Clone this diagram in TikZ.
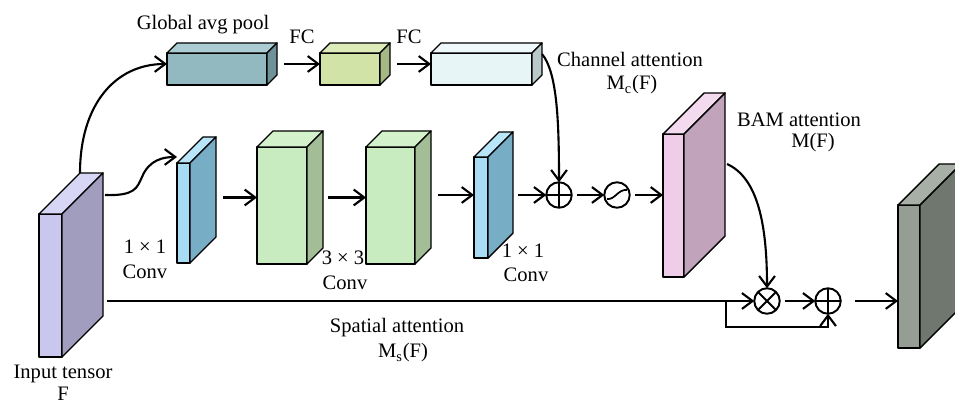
\documentclass[tikz,border=0pt]{standalone}
\usepackage{fontspec}
\setmainfont{Liberation Serif}
\usetikzlibrary{arrows.meta,positioning}

\definecolor{inF}{HTML}{C9C7EE}   \definecolor{inS}{HTML}{A09DBF}   \definecolor{inT}{HTML}{D8D6F5}
\definecolor{gapF}{HTML}{93B9C0}  \definecolor{gapS}{HTML}{6F9198}  \definecolor{gapT}{HTML}{AACCD2}
\definecolor{fcaF}{HTML}{D2E3A8}  \definecolor{fcaS}{HTML}{A6B883}  \definecolor{fcaT}{HTML}{DDEBB9}
\definecolor{fcbF}{HTML}{E8F5F7}  \definecolor{fcbS}{HTML}{B9C9CA}  \definecolor{fcbT}{HTML}{EFF8FA}
\definecolor{cvF}{HTML}{A8DCF4}   \definecolor{cvS}{HTML}{78ADC6}   \definecolor{cvT}{HTML}{B8E5F8}
\definecolor{c3F}{HTML}{C8ECC0}   \definecolor{c3S}{HTML}{A3BE96}   \definecolor{c3T}{HTML}{D3F1CB}
\definecolor{bamF}{HTML}{EFCDE8}  \definecolor{bamS}{HTML}{C1A3BC}  \definecolor{bamT}{HTML}{F4DAEF}
\definecolor{outF}{HTML}{959D95}  \definecolor{outS}{HTML}{6F776F}  \definecolor{outT}{HTML}{A7AFA7}

\tikzstyle{face}  = [draw=black, line width=0.8pt, line join=round]
\tikzstyle{line}  = [line width=1.2pt]
\tikzstyle{arrow} = [line width=1.2pt, -{Straight Barb[length=6pt,width=9pt]}]
\tikzstyle{op}    = [circle, draw=black, line width=1.1pt, minimum size=0.51cm, inner sep=0pt, outer sep=0pt]
\tikzstyle{lbl}   = [font=\fontsize{11.7}{13}\selectfont, inner sep=0pt]

% name, x, y, width, height, depth, front, side, top
\newcommand{\tensorbox}[9]{
	\node[face, fill=#7, anchor=north west, minimum width=#4*0.02cm, minimum height=#5*0.02cm, inner sep=0pt, outer sep=0pt] (#1) at (#2,#3) {};
	\draw[face, fill=#9] (#1.north west) -- ++(#6,-#6) -- ++(#4,0) -- ++(-#6,#6) -- cycle;
	\draw[face, fill=#8] (#1.north east) -- ++(#6,-#6) -- ++(0,#5) -- ++(-#6,#6) -- cycle;
	\coordinate (#1-back) at ([shift={(#6,-#6)}]#1.north west);
	\coordinate (#1-backne) at ([shift={(#6,-#6)}]#1.north east);
	\coordinate (#1-in) at ([shift={(0,-#6/2)}]#1.west);
	\coordinate (#1-out) at ([shift={(#6,-#6/2)}]#1.east);
}

\begin{document}
\begin{tikzpicture}[x=0.02cm,y=-0.02cm]
		\useasboundingbox (0,0) rectangle (955,404);

		\tensorbox{in}{39}{214}{23}{143}{41}{inF}{inS}{inT}
		\tensorbox{gap}{167}{53}{100}{32}{10}{gapF}{gapS}{gapT}
		\tensorbox{fca}{320}{53}{60}{32}{10}{fcaF}{fcaS}{fcaT}
		\tensorbox{fcb}{431}{53}{101}{32}{10}{fcbF}{fcbS}{fcbT}
		\tensorbox{conva}{177}{163}{13}{100}{26}{cvF}{cvS}{cvT}
		\tensorbox{c3a}{257}{147}{50}{117}{16}{c3F}{c3S}{c3T}
		\tensorbox{c3b}{366}{147}{49}{117}{16}{c3F}{c3S}{c3T}
		\tensorbox{convb}{474}{157}{14}{101}{25}{cvF}{cvS}{cvT}
		\tensorbox{bam}{663}{134}{21}{143}{41}{bamF}{bamS}{bamT}
		\tensorbox{out}{898}{205}{22}{143}{41}{outF}{outS}{outT}

		\node[op] (adda) at (559,195) {};
		\node[op] (sig) at (617,195) {};
		\node[op] (mul) at (767,301) {};
		\node[op] (addb) at (828,301) {};
		\draw[line width=1.1pt] (adda.north) -- (adda.south) (adda.west) -- (adda.east);
		\draw[line width=1.1pt] (addb.north) -- (addb.south) (addb.west) -- (addb.east);
		\draw[line width=1.1pt] (mul.north west) -- (mul.south east) (mul.north east) -- (mul.south west);
		\draw[line width=1pt] ([shift={(-10,4)}]sig.center) .. controls ([shift={(-2,5)}]sig.center) and ([shift={(1,-6)}]sig.center) .. ([shift={(10,-5)}]sig.center);

		\draw[arrow, shorten <=4pt] (gap-out |- fca-in) -- (fca-in);
		\draw[arrow, shorten <=4pt] (fca-out |- fcb-in) -- (fcb-in);
		\draw[arrow] ([shift={(0,11)}]fcb-backne) .. controls (557,72) and (559,120) .. (adda.north);
		\draw[arrow] (in-back) .. controls (80,105) and (115,64) .. ([shift={(0,-5)}]gap.west);
		\draw[arrow] ([shift={(2,22)}]in-backne) .. controls (135,196) and (137,188) .. (142,177) .. controls (149,160) and (163,157) .. ([shift={(0,-6)}]conva.north west);
		\draw[arrow, shorten <=4pt] (conva-out |- c3a-in) -- (c3a-in);
		\draw[arrow, shorten <=3pt] (c3a-out) -- (c3b-in);
		\draw[arrow, shorten <=4pt] (c3b-out |- convb-in) -- (convb-in);
		\draw[arrow, shorten <=3pt] (convb-out) -- (adda.west);
		\draw[arrow, shorten <=3pt] (adda.east) -- (sig.west);
		\draw[arrow, shorten <=3pt] (sig.east) -- (sig.east -| bam.west);
		\draw[arrow] ([shift={(2,71)}]bam-backne) .. controls (758,178) and (767,225) .. (mul.north);
		\draw[arrow, shorten <=2pt] (in-backne |- mul.west) -- (mul.west);
		\coordinate (split) at ([shift={(-28,0)}]mul.west);
		\draw[arrow] (split) -- ++(0,26) -| (addb.south);
		\draw[arrow, shorten <=3pt] (mul.east) -- (addb.west);
		\draw[arrow, shorten <=8pt] (addb.east) -- (addb.east -| out.west);

		\node[lbl] (tgap) at (203,25) {Global avg pool};
		\node[lbl] (tfca) at (302,37) {FC};
		\node[lbl] (tfcb) at (409,37) {FC};
		\node[lbl] (tca) at (630,59) {Channel attention};
		\node[lbl] (tcb) at (632,85) {M\textsubscript{c}(F)};
		\node[lbl] (tba) at (799,120) {BAM attention};
		\node[lbl] (tbb) at (813,143) {M(F)};
		\node[lbl] (tk1a) at (145,247) {1 × 1};
		\node[lbl] (tk1b) at (145,272) {Conv};
		\node[lbl] (tk3a) at (343,258) {3 × 3};
		\node[lbl] (tk3b) at (345,283) {Conv};
		\node[lbl] (tk2a) at (523,251) {1 × 1};
		\node[lbl] (tk2b) at (526,275) {Conv};
		\node[lbl] (tsa) at (397,328) {Spatial attention};
		\node[lbl] (tsb) at (403,353) {M\textsubscript{s}(F)};
		\node[lbl] (tin) at (63,374) {Input tensor};
		\node[lbl] (tinf) at (63,394) {F};
	\end{tikzpicture}
\end{document}
